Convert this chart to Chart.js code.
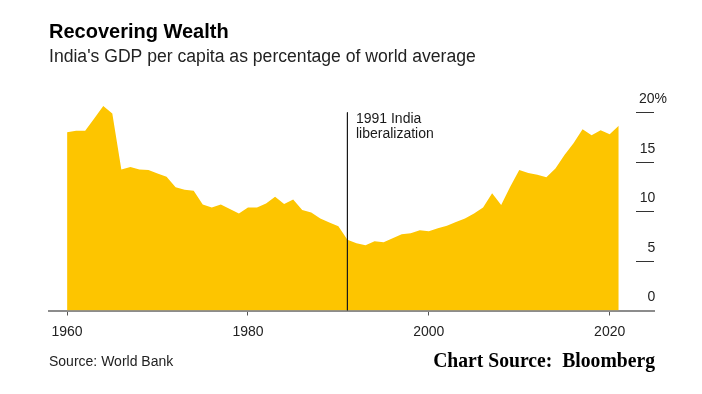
<!DOCTYPE html>
<html>
<head>
<meta charset="utf-8">
<script src="https://cdn.jsdelivr.net/npm/chart.js@4"></script>
<style>
  html, body { margin: 0; padding: 0; background: #fff; }
  #wrap { position: relative; width: 702px; height: 394px; overflow: hidden; }
  #c { position: absolute; left: 0; top: 0; }
  .src { position: absolute; left: 49px; top: 353px; font: 14px 'Liberation Sans', Arial, sans-serif; line-height: 16px; color: #222; white-space: pre; }
  .cs { position: absolute; right: 47px; top: 350px; font: bold 21px 'Liberation Serif', 'Times New Roman', serif; line-height: 21px; color: #000; white-space: pre; transform: scaleX(0.936); transform-origin: right center; }
</style>
</head>
<body>
<div id="wrap">
  <canvas id="c" width="702" height="394"></canvas>
  <div class="src">Source: World Bank</div>
  <div class="cs">Chart Source:  Bloomberg</div>
</div>
<script>
// ---- data ----
const titleText = 'Recovering Wealth';
const subtitleText = "India's GDP per capita as percentage of world average";

const years = [
  1960, 1961, 1962, 1963, 1964, 1965, 1966, 1967, 1968, 1969,
  1970, 1971, 1972, 1973, 1974, 1975, 1976, 1977, 1978, 1979,
  1980, 1981, 1982, 1983, 1984, 1985, 1986, 1987, 1988, 1989,
  1990, 1991, 1992, 1993, 1994, 1995, 1996, 1997, 1998, 1999,
  2000, 2001, 2002, 2003, 2004, 2005, 2006, 2007, 2008, 2009,
  2010, 2011, 2012, 2013, 2014, 2015, 2016, 2017, 2018, 2019,
  2020, 2021
];
const gdpShare = [
  18.0, 18.15, 18.15, 19.4, 20.65, 19.9, 14.25, 14.5, 14.25, 14.2,
  13.85, 13.5, 12.45, 12.2, 12.1, 10.7, 10.4, 10.7, 10.25, 9.8,
  10.4, 10.4, 10.8, 11.5, 10.75, 11.2, 10.15, 9.9, 9.3, 8.9,
  8.5, 7.15, 6.8, 6.6, 7.0, 6.9, 7.3, 7.7, 7.8, 8.1,
  8.0, 8.3, 8.55, 8.95, 9.3, 9.8, 10.4, 11.85, 10.65, 12.5,
  14.2, 13.9, 13.7, 13.45, 14.35, 15.7, 16.9, 18.3, 17.7, 18.2,
  17.8, 18.65
];
const xTickValues = [1960, 1980, 2000, 2020];
const yTickValues = [0, 5, 10, 15, 20];
const yTickLabels = ['0', '5', '10', '15', '20%'];
const annotationYear = 1991;
const annotationTop = 20;
const annotationLines = ['1991 India', 'liberalization'];

// ---- chart ----
Chart.defaults.font.family = "'Liberation Sans', Arial, sans-serif";

const annotationText = {
  id: 'annotationText',
  afterDatasetsDraw(chart) {
    const {ctx, scales: {x, y}} = chart;
    const px = x.getPixelForValue(annotationYear);
    const py = y.getPixelForValue(annotationTop);
    ctx.save();
    ctx.font = "14px 'Liberation Sans', Arial, sans-serif";
    ctx.fillStyle = '#1a1a1a';
    ctx.textAlign = 'left';
    ctx.textBaseline = 'middle';
    annotationLines.forEach((t, i) => ctx.fillText(t, px + 8.5, py + 6.5 + i * 15));
    ctx.restore();
  }
};

new Chart(document.getElementById('c'), {
  type: 'line',
  data: {
    datasets: [
      {
        label: 'liberalization',
        data: [{x: annotationYear, y: annotationTop}, {x: annotationYear, y: 0}],
        borderColor: '#1a1a1a',
        borderWidth: 1,
        pointRadius: 0,
        fill: false
      },
      {
        label: 'GDP per capita share',
        data: years.map((yr, i) => ({x: yr, y: gdpShare[i]})),
        fill: 'origin',
        backgroundColor: '#FDC500',
        borderWidth: 0,
        borderColor: 'rgba(0,0,0,0)',
        pointRadius: 0,
        tension: 0
      }
    ]
  },
  options: {
    responsive: false,
    animation: false,
    devicePixelRatio: 1,
    layout: { padding: { left: 49, right: 35, top: 0, bottom: 53.5 } },
    plugins: {
      legend: { display: false },
      tooltip: { enabled: false },
      title: {
        display: true, text: titleText, align: 'start', color: '#000',
        font: { size: 20, weight: 'bold' },
        padding: { top: 20, bottom: 0 }
      },
      subtitle: {
        display: true, text: subtitleText, align: 'start', color: '#222',
        font: { size: 17.6 },
        padding: { top: 2.44, bottom: 30.09 }
      }
    },
    scales: {
      x: {
        type: 'linear',
        min: 1958,
        max: 2024.9,
        afterBuildTicks: s => { s.ticks = xTickValues.map(v => ({value: v})); },
        afterFit: s => { s.height = 30; },
        grid: { drawOnChartArea: false, tickLength: 5, color: '#555', lineWidth: 1 },
        border: { display: true, color: '#8c8c8c', width: 2 },
        ticks: {
          padding: 8, color: '#222', font: { size: 14 },
          maxRotation: 0, autoSkip: false,
          callback: v => String(v)
        }
      },
      y: {
        position: 'right',
        min: 0,
        max: 21.5,
        afterBuildTicks: s => { s.ticks = yTickValues.map(v => ({value: v})); },
        afterFit: s => { s.width = 13; },
        grid: { drawOnChartArea: false, tickLength: -18, color: '#333', lineWidth: 1 },
        border: { display: false },
        ticks: {
          mirror: true, crossAlign: 'near', padding: 13,
          labelOffset: -13, color: '#222', font: { size: 14 },
          callback: v => {
            const lbl = yTickLabels[yTickValues.indexOf(v)];
            return lbl.endsWith('%') ? lbl : lbl + '   ';
          }
        }
      }
    }
  },
  plugins: [annotationText]
});
</script>
</body>
</html>
